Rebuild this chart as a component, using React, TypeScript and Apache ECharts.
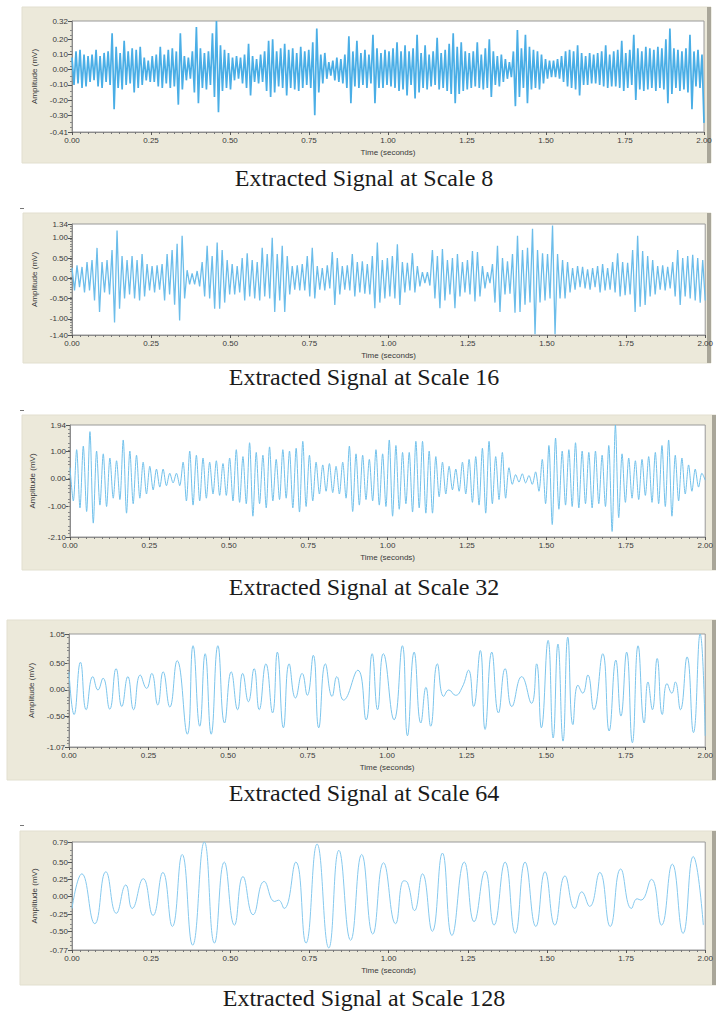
import React, { useEffect, useRef } from 'react';
import * as echarts from 'echarts';

// ---------- DATA ----------
const captions = [
  'Extracted Signal at Scale 8',
  'Extracted Signal at Scale 16',
  'Extracted Signal at Scale 32',
  'Extracted Signal at Scale 64',
  'Extracted Signal at Scale 128',
];

const xTickValues = [0, 0.25, 0.5, 0.75, 1, 1.25, 1.5, 1.75, 2];

const yLabels8 = [-0.41, -0.3, -0.2, -0.1, 0, 0.1, 0.2, 0.32];
const yLabels16 = [-1.4, -1.0, -0.5, 0, 0.5, 1.0, 1.34];
const yLabels32 = [-2.1, -1.0, 0, 1.0, 1.94];
const yLabels64 = [-1.07, -0.5, 0, 0.5, 1.05];
const yLabels128 = [-0.77, -0.5, -0.25, 0, 0.25, 0.5, 0.79];

// Scale 8: successive peaks / troughs (mV), evenly spread over 0–2 s
const scale8Values = [
  0.08, -0.10, 0.12, -0.09, 0.13, -0.12, 0.10, -0.11, 0.09, -0.08,
  0.10, -0.07, 0.13, -0.11, 0.09, -0.12, 0.11, -0.08, 0.12, -0.10,
  0.24, -0.26, 0.15, -0.12, 0.11, -0.13, 0.19, -0.10, 0.12, -0.09,
  0.14, -0.15, 0.13, -0.12, 0.15, -0.10, 0.08, -0.07, 0.06, -0.08,
  0.09, -0.08, 0.10, -0.11, 0.15, -0.12, 0.10, -0.09, 0.13, -0.12,
  0.14, -0.11, 0.12, -0.23, 0.24, -0.13, 0.09, -0.07, 0.08, -0.06,
  0.12, -0.15, 0.28, -0.22, 0.14, -0.12, 0.11, -0.13, 0.12, -0.10,
  0.24, -0.18, 0.32, -0.28, 0.16, -0.14, 0.13, -0.12, 0.11, -0.13,
  0.08, -0.07, 0.09, -0.06, 0.08, -0.09, 0.10, -0.12, 0.17, -0.17,
  0.09, -0.08, 0.07, -0.09, 0.10, -0.08, 0.12, -0.14, 0.19, -0.18,
  0.20, -0.15, 0.12, -0.11, 0.14, -0.12, 0.17, -0.17, 0.13, -0.12,
  0.14, -0.13, 0.11, -0.14, 0.15, -0.12, 0.12, -0.10, 0.13, -0.12,
  0.18, -0.30, 0.27, -0.15, 0.10, -0.09, 0.11, -0.06, 0.05, -0.04,
  0.06, -0.07, 0.08, -0.08, 0.07, -0.09, 0.10, -0.12, 0.22, -0.22,
  0.12, -0.11, 0.19, -0.12, 0.11, -0.10, 0.13, -0.12, 0.10, -0.09,
  0.23, -0.22, 0.14, -0.12, 0.11, -0.12, 0.13, -0.10, 0.12, -0.11,
  0.14, -0.12, 0.18, -0.14, 0.12, -0.13, 0.16, -0.17, 0.12, -0.10,
  0.14, -0.19, 0.23, -0.15, 0.11, -0.12, 0.16, -0.13, 0.10, -0.11,
  0.12, -0.10, 0.21, -0.13, 0.11, -0.12, 0.13, -0.14, 0.17, -0.16,
  0.24, -0.22, 0.15, -0.16, 0.18, -0.14, 0.12, -0.13, 0.11, -0.12,
  0.12, -0.11, 0.18, -0.12, 0.10, -0.13, 0.14, -0.12, 0.20, -0.18,
  0.12, -0.10, 0.09, -0.11, 0.10, -0.08, 0.07, -0.06, 0.05, -0.05,
  0.12, -0.24, 0.26, -0.18, 0.14, -0.12, 0.23, -0.22, 0.15, -0.13,
  0.13, -0.12, 0.12, -0.13, 0.10, -0.09, 0.07, -0.06, 0.06, -0.05,
  0.06, -0.05, 0.07, -0.06, 0.09, -0.08, 0.12, -0.11, 0.13, -0.12,
  0.12, -0.13, 0.16, -0.17, 0.11, -0.10, 0.09, -0.10, 0.11, -0.09,
  0.10, -0.09, 0.11, -0.10, 0.12, -0.11, 0.16, -0.12, 0.10, -0.11,
  0.12, -0.11, 0.13, -0.12, 0.19, -0.14, 0.11, -0.12, 0.13, -0.10,
  0.23, -0.20, 0.14, -0.13, 0.12, -0.14, 0.15, -0.13, 0.14, -0.12,
  0.13, -0.14, 0.15, -0.12, 0.14, -0.13, 0.20, -0.22, 0.27, -0.16,
  0.14, -0.12, 0.13, -0.14, 0.12, -0.13, 0.14, -0.15, 0.23, -0.26,
  0.12, -0.11, 0.13, -0.12, 0.10, -0.35,
];

// Scale 16
const scale16Values = [
  0.25, -0.30, 0.32, -0.22, 0.28, -0.35, 0.40, -0.30,
  0.45, -0.55, 0.75, -0.83, 0.40, -0.35, 0.45, -0.40,
  0.70, -1.09, 1.18, -0.75, 0.55, -0.50, 0.45, -0.40,
  0.55, -0.50, 0.45, -0.55, 0.60, -0.45, 0.35, -0.30,
  0.30, -0.35, 0.32, -0.28, 0.35, -0.55, 0.60, -0.40,
  0.70, -0.65, 0.85, -1.04, 1.05, -0.50, 0.20, -0.15,
  0.12, -0.15, 0.18, -0.20, 0.40, -0.45, 0.80, -0.50,
  0.55, -0.75, 0.88, -0.75, 0.70, -0.60, 0.45, -0.40,
  0.35, -0.40, 0.30, -0.35, 0.50, -0.55, 0.62, -0.45,
  0.45, -0.50, 0.40, -0.55, 0.75, -0.45, 0.60, -0.50,
  1.00, -0.83, 0.60, -0.55, 0.80, -0.83, 0.55, -0.40,
  0.30, -0.28, 0.32, -0.30, 0.35, -0.30, 0.55, -0.45,
  0.75, -0.50, 0.30, -0.28, 0.25, -0.30, 0.32, -0.25,
  0.65, -0.66, 0.50, -0.40, 0.30, -0.28, 0.32, -0.30,
  0.60, -0.45, 0.40, -0.35, 0.42, -0.38, 0.35, -0.40,
  0.55, -0.74, 0.88, -0.60, 0.45, -0.50, 0.50, -0.45,
  0.55, -0.50, 0.84, -0.66, 0.40, -0.35, 0.38, -0.30,
  0.62, -0.35, 0.30, -0.20, 0.15, -0.12, 0.15, -0.18,
  0.70, -0.50, 0.55, -0.74, 0.72, -0.55, 0.45, -0.40,
  0.50, -0.74, 0.60, -0.45, 0.40, -0.35, 0.45, -0.40,
  0.67, -0.57, 0.65, -0.45, 0.30, -0.25, 0.15, -0.12,
  0.35, -0.60, 0.80, -0.83, 0.50, -0.40, 0.42, -0.38,
  0.60, -0.85, 1.05, -0.83, 0.70, -0.65, 0.75, -0.60,
  1.22, -1.38, 0.70, -0.60, 0.62, -0.55, 0.60, -0.50,
  1.30, -1.38, 0.60, -0.50, 0.45, -0.50, 0.40, -0.35,
  0.25, -0.28, 0.30, -0.22, 0.28, -0.25, 0.22, -0.28,
  0.25, -0.22, 0.30, -0.35, 0.35, -0.30, 0.25, -0.28,
  0.40, -0.35, 0.62, -0.45, 0.40, -0.42, 0.38, -0.40,
  0.70, -0.83, 1.05, -0.70, 0.67, -0.66, 0.55, -0.45,
  0.45, -0.40, 0.30, -0.28, 0.32, -0.30, 0.28, -0.25,
  0.40, -0.45, 0.70, -0.66, 0.50, -0.45, 0.55, -0.50,
  0.58, -0.55, 0.50, -0.60, 0.45, -0.55,
];

// Scale 32
const scale32Values = [
  0.40, -0.80, 1.05, -1.05, 1.18, -1.18,
  1.70, -1.60, 1.00, -0.95, 0.90, -1.00,
  0.75, -0.70, 0.65, -0.75, 1.40, -1.24,
  1.00, -0.90, 0.85, -0.70, 0.60, -0.55,
  0.45, -0.40, 0.35, -0.30, 0.35, -0.25,
  0.20, -0.15, 0.20, -0.25, 0.60, -0.80,
  1.00, -0.95, 0.85, -0.80, 0.75, -0.70,
  0.60, -0.55, 0.65, -0.60, 0.55, -0.60,
  0.75, -0.80, 1.05, -0.85, 0.80, -0.90,
  1.30, -1.35, 0.95, -0.90, 0.85, -1.05,
  1.15, -0.80, 0.70, -0.75, 1.05, -0.70,
  1.00, -1.05, 1.10, -1.20, 1.35, -1.00,
  0.85, -0.80, 0.60, -0.55, 0.50, -0.45,
  0.55, -0.50, 0.45, -0.55, 0.60, -0.70,
  1.18, -1.18, 0.90, -0.95, 0.85, -0.75,
  0.70, -0.80, 1.05, -0.95, 0.90, -1.00,
  1.40, -1.35, 1.20, -1.10, 0.95, -0.90,
  0.95, -1.20, 1.35, -1.05, 1.35, -1.24,
  1.00, -1.24, 0.80, -0.65, 0.60, -0.55,
  0.45, -0.40, 0.35, -0.45, 0.60, -0.55,
  0.70, -0.85, 0.80, -0.95, 1.10, -1.24,
  1.35, -0.90, 0.80, -0.75, 0.95, -0.70,
  0.40, -0.20, 0.15, -0.12, 0.18, -0.15,
  0.12, -0.20, 0.25, -0.45, 0.70, -0.90,
  1.20, -1.65, 1.47, -1.10, 1.00, -0.95,
  1.05, -1.00, 1.30, -1.05, 1.00, -0.90,
  0.95, -1.05, 1.00, -0.90, 0.85, -1.00,
  1.20, -1.90, 1.94, -1.40, 0.90, -0.85,
  0.75, -0.70, 0.65, -0.75, 0.70, -0.60,
  0.80, -0.85, 0.95, -0.90, 1.20, -1.00,
  1.40, -1.35, 0.85, -0.80, 0.75, -0.55,
  0.50, -0.45, 0.35, -0.30, 0.20, -0.05,
];

// Scale 64: turning points (time s, amplitude mV)
const scale64Times = [
  0.000, 0.016, 0.036, 0.054, 0.075, 0.091, 0.107, 0.128, 0.148, 0.166,
  0.185, 0.203, 0.224, 0.244, 0.260, 0.279, 0.296, 0.317, 0.340, 0.372,
  0.390, 0.411, 0.428, 0.447, 0.468, 0.489, 0.510, 0.530, 0.546, 0.564,
  0.582, 0.598, 0.619, 0.640, 0.655, 0.674, 0.692, 0.712, 0.733, 0.749,
  0.768, 0.785, 0.806, 0.827, 0.842, 0.863, 0.908, 0.934, 0.953, 0.970,
  0.988, 1.022, 1.048, 1.064, 1.085, 1.106, 1.122, 1.137, 1.158, 1.178,
  1.194, 1.215, 1.236, 1.256, 1.272, 1.293, 1.308, 1.329, 1.350, 1.371,
  1.392, 1.423, 1.454, 1.470, 1.485, 1.506, 1.522, 1.537, 1.553, 1.568,
  1.584, 1.600, 1.615, 1.631, 1.650, 1.678, 1.698, 1.719, 1.735, 1.753,
  1.771, 1.789, 1.808, 1.820, 1.834, 1.849, 1.865, 1.880, 1.895, 1.906,
  1.922, 1.943, 1.963, 1.984, 2.000,
];
const scale64Values = [
  0.34, -0.46, 0.52, -0.37, 0.25, 0.00, 0.22, -0.36, 0.40, -0.31,
  0.25, -0.37, 0.28, 0.03, 0.31, -0.28, 0.34, -0.32, 0.55, -0.83,
  0.83, -0.68, 0.68, -0.83, 0.83, -0.62, 0.34, -0.37, 0.31, -0.22,
  0.40, -0.37, 0.49, -0.43, 0.71, -0.71, 0.49, -0.15, 0.31, -0.10,
  0.65, -0.71, 0.49, -0.12, 0.25, -0.19, 0.37, -0.56, 0.68, -0.37,
  0.68, -0.56, 0.83, -0.86, 0.71, -0.62, 0.05, -0.68, 0.49, -0.12,
  0.00, -0.10, 0.05, 0.37, -0.31, 0.74, -0.74, 0.71, -0.43, 0.40,
  -0.31, 0.25, -0.25, 0.49, -0.71, 0.93, -0.90, 0.86, -0.96, 0.99,
  -0.65, 0.09, -0.06, 0.28, -0.37, 0.68, -0.77, 0.56, -0.49, 0.71,
  -0.99, 0.83, -0.62, 0.15, -0.37, 0.59, -0.46, 0.12, -0.06, 0.15,
  -0.37, 0.62, -0.80, 1.05, -0.86,
];

// Scale 128: turning points (time s, amplitude mV)
const scale128Times = [
  0.000, 0.031, 0.072, 0.107, 0.140, 0.170, 0.190, 0.225, 0.256, 0.287,
  0.317, 0.348, 0.381, 0.418, 0.450, 0.481, 0.513, 0.540, 0.572, 0.607,
  0.640, 0.652, 0.670, 0.707, 0.739, 0.774, 0.811, 0.843, 0.880, 0.915,
  0.950, 0.984, 1.022, 1.048, 1.060, 1.082, 1.107, 1.138, 1.170, 1.200,
  1.239, 1.270, 1.305, 1.333, 1.368, 1.400, 1.431, 1.465, 1.494, 1.525,
  1.557, 1.588, 1.610, 1.635, 1.667, 1.700, 1.733, 1.767, 1.785, 1.797,
  1.830, 1.862, 1.896, 1.930, 1.962, 1.994,
];
const scale128Values = [
  -0.17, 0.33, -0.39, 0.36, -0.24, 0.17, -0.17, 0.26, -0.27, 0.35,
  -0.43, 0.61, -0.70, 0.79, -0.67, 0.50, -0.41, 0.29, -0.26, 0.22,
  -0.07, -0.05, -0.17, 0.50, -0.67, 0.76, -0.74, 0.67, -0.63, 0.61,
  -0.54, 0.49, -0.39, 0.23, 0.20, -0.20, 0.33, -0.50, 0.63, -0.56,
  0.50, -0.36, 0.37, -0.41, 0.50, -0.53, 0.50, -0.43, 0.36, -0.41,
  0.30, -0.17, 0.07, -0.14, 0.35, -0.43, 0.40, -0.17, -0.03, -0.05,
  0.25, -0.41, 0.47, -0.53, 0.58, -0.41,
];

// ---------- LAYOUT ----------
const T_MAX = 2;
const evenly = (vals: number[]) => vals.map((v, i) => [(i * T_MAX) / (vals.length - 1), v]);
const zip = (ts: number[], vs: number[]) => ts.map((t, i) => [t, vs[i]]);

const panels = [
  { frame: [22, 7, 689, 156], grid: [72, 21, 632, 111], y: yLabels8, yInt: 0.1, ySplit: 3,
    data: evenly(scale8Values), color: '#4aaee6', width: 1.7, smooth: false, cap: 178 },
  { frame: [23, 213, 688, 150], grid: [72, 224, 634, 111], y: yLabels16, yInt: 0.5, ySplit: 8,
    data: evenly(scale16Values), color: '#6cbdea', width: 1.3, smooth: false, cap: 377 },
  { frame: [22, 415, 694, 155], grid: [70, 425, 640, 112], y: yLabels32, yInt: 0.5, ySplit: 4,
    data: evenly(scale32Values), color: '#72c1eb', width: 1, smooth: 0.3, cap: 587 },
  { frame: [7, 620, 709, 160], grid: [69, 634, 642, 113], y: yLabels64, yInt: 0.25, ySplit: 4,
    data: zip(scale64Times, scale64Values), color: '#7cc5ec', width: 1, smooth: 0.5, cap: 793 },
  { frame: [20, 831, 696, 154], grid: [72, 842, 636, 108], y: yLabels128, yInt: 0.25, ySplit: 4,
    data: zip(scale128Times, scale128Values), color: '#86c9ee', width: 1, smooth: 0.5, cap: 998 },
];

const AXIS_FONT = 'Liberation Sans';

export default function App() {
  const ref = useRef<HTMLDivElement>(null);
  useEffect(() => {
    if (!ref.current) return;
    const chart = echarts.init(ref.current, undefined, { renderer: 'svg' });
    const graphics: any[] = [];
    panels.forEach((p) => {
      const [fx, fy, fw, fh] = p.frame;
      graphics.push({ type: 'rect', z: -10, shape: { x: fx, y: fy, width: fw, height: fh },
        style: { fill: '#ece9da', stroke: '#e2dfcf', lineWidth: 1 } });
      graphics.push({ type: 'rect', z: -9, shape: { x: fx + fw - 4, y: fy, width: 4, height: fh },
        style: { fill: '#a9a699' } });
    });
    captions.forEach((c, i) => {
      graphics.push({ type: 'text', z: 10, x: 364, y: panels[i].cap,
        style: { text: c, fill: '#1a1a1a', font: '24px "Liberation Serif"', textAlign: 'center', textVerticalAlign: 'middle' } });
    });
    [208, 410, 825].forEach((yy) => {
      graphics.push({ type: 'rect', z: -8, shape: { x: 20, y: yy, width: 4, height: 1 }, style: { fill: '#777' } });
    });

    const option: any = {
      animation: false,
      backgroundColor: '#ffffff',
      graphic: { elements: graphics },
      grid: panels.map((p) => ({
        left: p.grid[0], top: p.grid[1], width: p.grid[2], height: p.grid[3],
        show: true, backgroundColor: '#ffffff', borderColor: '#9a9a9a', borderWidth: 1,
      })),
      xAxis: panels.map((p, i) => ({
        gridIndex: i, type: 'value', min: 0, max: T_MAX, interval: 0.25,
        axisLine: { show: true, onZero: false, lineStyle: { color: '#8c8c8c', width: 1 } },
        axisTick: { show: true, length: 3, lineStyle: { color: '#555' } },
        minorTick: { show: true, splitNumber: 10, length: 2, lineStyle: { color: '#777' } },
        axisLabel: { fontSize: 8, color: '#3a3a3a', margin: 4, fontFamily: AXIS_FONT,
          customValues: xTickValues, formatter: (v: number) => v.toFixed(2) },
        splitLine: { show: false },
        name: 'Time (seconds)', nameLocation: 'middle', nameGap: 16,
        nameTextStyle: { fontSize: 8, color: '#3a3a3a', fontFamily: AXIS_FONT },
      })),
      yAxis: panels.map((p, i) => ({
        gridIndex: i, type: 'value', min: p.y[0], max: p.y[p.y.length - 1], interval: p.yInt,
        axisLine: { show: true, onZero: false, lineStyle: { color: '#8c8c8c', width: 1 } },
        axisTick: { show: true, length: 4, customValues: p.y, lineStyle: { color: '#555' } },
        minorTick: { show: true, splitNumber: p.ySplit, length: 2, lineStyle: { color: '#888' } },
        axisLabel: { fontSize: 8, color: '#3a3a3a', margin: 4, fontFamily: AXIS_FONT,
          customValues: p.y, formatter: (v: number) => v.toFixed(2) },
        splitLine: { show: false },
        name: 'Amplitude (mV)', nameLocation: 'middle', nameGap: 33, nameRotate: 90,
        nameTextStyle: { fontSize: 8, color: '#3a3a3a', fontFamily: AXIS_FONT },
      })),
      series: panels.map((p, i) => ({
        type: 'line', xAxisIndex: i, yAxisIndex: i, data: p.data, showSymbol: false,
        symbol: 'none', smooth: p.smooth, clip: true,
        lineStyle: { color: p.color, width: p.width },
      })),
    };
    chart.setOption(option);
    return () => chart.dispose();
  }, []);
  return (
    <div ref={ref} style={{ position: 'fixed', left: 0, top: 0, width: 716, height: 1014, background: '#fff' }} />
  );
}
